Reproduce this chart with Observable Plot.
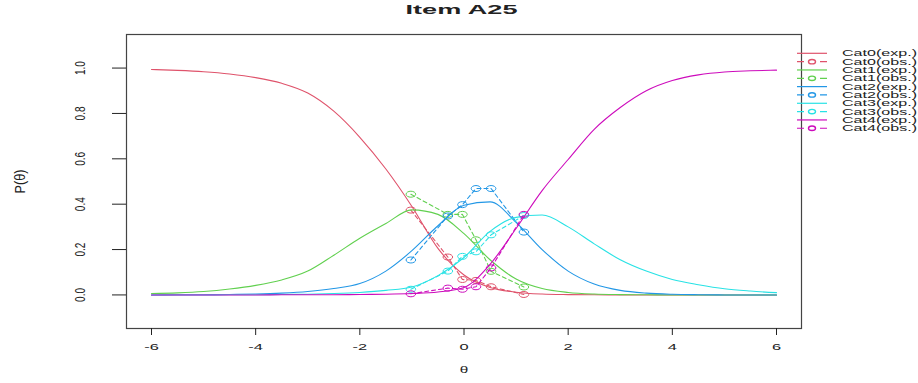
<!DOCTYPE html>
<html><head><meta charset="utf-8">
<script src="https://cdn.jsdelivr.net/npm/d3@7"></script>
<script src="https://cdn.jsdelivr.net/npm/@observablehq/plot@0.6"></script>
<style>body{margin:0;background:#fff}#chart{width:918px;height:383px}</style>
</head><body><div id="chart"></div>
<script>
// ---- data ----
const title = "Item A25";
const yLabel = "P(θ)";
const xLabel = "θ";
const categories = ["Cat0", "Cat1", "Cat2", "Cat3", "Cat4"];
const colors = ["#DF536B", "#61D04F", "#2297E6", "#28E2E5", "#CD0BBC"];
const xTicks = [-6, -4, -2, 0, 2, 4, 6];
const yTicks = [0, 0.2, 0.4, 0.6, 0.8, 1.0];

const theta = [-6, -5.5, -5, -4.5, -4, -3.5, -3, -2.5, -2, -1.5, -1, -0.5, 0, 0.5, 1, 1.5, 2, 2.5, 3, 3.5, 4, 4.5, 5, 5.5, 6];
const cat0Exp = [0.994, 0.990, 0.984, 0.974, 0.958, 0.933, 0.890, 0.81, 0.695, 0.555, 0.39, 0.205, 0.088, 0.033, 0.012, 0.004, 0.0015, 0.0005, 0, 0, 0, 0, 0, 0, 0];
const cat1Exp = [0.006, 0.009, 0.015, 0.026, 0.042, 0.066, 0.105, 0.175, 0.25, 0.315, 0.375, 0.355, 0.27, 0.155, 0.07, 0.028, 0.011, 0.004, 0.0015, 0.0005, 0, 0, 0, 0, 0];
const cat2Exp = [0, 0.0005, 0.001, 0.002, 0.004, 0.008, 0.015, 0.028, 0.05, 0.105, 0.195, 0.305, 0.395, 0.41, 0.32, 0.20, 0.105, 0.048, 0.02, 0.008, 0.003, 0.001, 0, 0, 0];
const cat3Exp = [0, 0, 0, 0.0005, 0.001, 0.002, 0.003, 0.006, 0.011, 0.02, 0.035, 0.085, 0.165, 0.28, 0.342, 0.352, 0.30, 0.225, 0.155, 0.105, 0.068, 0.045, 0.027, 0.017, 0.01];
const cat4Exp = [0, 0, 0, 0, 0, 0.0005, 0.001, 0.001, 0.002, 0.003, 0.006, 0.013, 0.033, 0.135, 0.293, 0.46, 0.597, 0.73, 0.826, 0.90, 0.945, 0.97, 0.983, 0.988, 0.991];

const obsTheta = [-1.02, -0.31, -0.03, 0.23, 0.52, 1.15];
const cat0Obs = [0.374, 0.167, 0.068, 0.064, 0.036, 0.002];
const cat1Obs = [0.444, 0.355, 0.355, 0.243, 0.104, 0.035];
const cat2Obs = [0.154, 0.348, 0.398, 0.469, 0.469, 0.277];
const cat3Obs = [0.025, 0.105, 0.17, 0.19, 0.265, 0.35];
const cat4Obs = [0.005, 0.03, 0.025, 0.036, 0.119, 0.355];

const expSeries = [cat0Exp, cat1Exp, cat2Exp, cat3Exp, cat4Exp];
const obsSeries = [cat0Obs, cat1Obs, cat2Obs, cat3Obs, cat4Obs];

// ---- tables ----
const expRows = categories.map((c, i) => theta.map((t, j) => ({cat: c, theta: t, p: expSeries[i][j]})));
const obsRows = categories.map((c, i) => obsTheta.map((t, j) => ({cat: c, theta: t, p: obsSeries[i][j]})));

// ellipse marker (circles in the reference are horizontally stretched)
const ellipse = {
  draw(ctx, size) {
    const r = Math.sqrt(size / Math.PI), rx = r * 1.6, ry = r, k = 0.5523;
    ctx.moveTo(rx, 0);
    ctx.bezierCurveTo(rx, k * ry, k * rx, ry, 0, ry);
    ctx.bezierCurveTo(-k * rx, ry, -rx, k * ry, -rx, 0);
    ctx.bezierCurveTo(-rx, -k * ry, -k * rx, -ry, 0, -ry);
    ctx.bezierCurveTo(k * rx, -ry, rx, -k * ry, rx, 0);
    ctx.closePath();
  }
};

const marks = [
  Plot.frame({stroke: "#444", strokeWidth: 1.2}),
  Plot.axisX({ticks: xTicks, tickSize: 7, tickPadding: 8.7, fontSize: 8.5, label: null, tickFormat: d => String(d)}),
  Plot.axisY({ticks: yTicks, tickSize: 14, tickFormat: () => "", label: null}),
  Plot.text(yTicks, {y: d => d, text: d => d.toFixed(1), frameAnchor: "left", dx: -45.5, rotate: -90, textAnchor: "middle", lineAnchor: "middle", fontSize: 14}),
  Plot.text([yLabel], {text: d => d, frameAnchor: "left", dx: -106, rotate: -90, textAnchor: "middle", lineAnchor: "middle", fontSize: 15}),
  Plot.text([xLabel], {text: d => d, frameAnchor: "bottom", dy: 42, textAnchor: "middle", lineAnchor: "middle", fontSize: 8.5}),
  Plot.text([title], {text: d => d, frameAnchor: "top", dy: -24.6, dx: -2.5, textAnchor: "middle", lineAnchor: "middle", fontSize: 12, fontWeight: "bold"})
];
categories.forEach((c, i) => {
  marks.push(Plot.line(expRows[i], {x: "theta", y: "p", stroke: colors[i], strokeWidth: 1.1, curve: "monotone-x"}));
  marks.push(Plot.line(obsRows[i], {x: "theta", y: "p", stroke: colors[i], strokeWidth: 1.1, strokeDasharray: "4,3"}));
  marks.push(Plot.dot(obsRows[i], {x: "theta", y: "p", stroke: colors[i], fill: "none", r: 3, symbol: ellipse, strokeWidth: 1}));
});

const plot = Plot.plot({
  width: 918, height: 383,
  marginLeft: 126, marginRight: 117, marginTop: 34, marginBottom: 55,
  x: {domain: [-6.48, 6.48]},
  y: {domain: [-0.148, 1.148]},
  style: {fontFamily: "'Liberation Sans', Arial, sans-serif", background: "#fff", color: "#222"},
  marks
});
document.getElementById("chart").append(plot);

const svg = d3.select(plot);

// ---- stretch plot texts to match the reference's aspect ----
const xTickStrings = new Set(xTicks.map(String));
const yTickStrings = new Set(yTicks.map(d => d.toFixed(1)));
svg.selectAll("text").each(function () {
  const t = this.textContent;
  const L = this.getComputedTextLength();
  if (!(L > 0)) return;
  let target = null;
  if (t === title) target = 112;
  else if (t === yLabel) target = 24;
  else if (t === xLabel) target = L * 1.8;
  else if (yTickStrings.has(t)) target = 14;
  else if (xTickStrings.has(t)) target = L * 1.93;
  if (target != null) {
    this.setAttribute("textLength", target);
    this.setAttribute("lengthAdjust", "spacingAndGlyphs");
  }
});

// ---- legend (outside the plot box, right side) ----
const lg = svg.append("g").attr("class", "legend");
const legendItems = [];
categories.forEach((c, i) => {
  legendItems.push({label: c + "(exp.)", color: colors[i], obs: false});
  legendItems.push({label: c + "(obs.)", color: colors[i], obs: true});
});
legendItems.forEach((d, k) => {
  const y = 53.3 + k * 8.33;
  lg.append("line").attr("x1", 797).attr("x2", 827).attr("y1", y).attr("y2", y)
    .attr("stroke", d.color).attr("stroke-width", 1.2)
    .attr("stroke-dasharray", d.obs ? "7,16" : null);
  if (d.obs) {
    lg.append("path").attr("transform", `translate(812,${y})`)
      .attr("d", d3.symbol(ellipse, Math.PI * 2.2 * 2.2)())
      .attr("fill", "none").attr("stroke", d.color).attr("stroke-width", 1.4);
  }
  const tx = lg.append("text").attr("x", 842).attr("y", y + 3.1)
    .attr("text-anchor", "start")
    .attr("font-size", 9).attr("fill", "#222").text(d.label);
  tx.attr("textLength", 75).attr("lengthAdjust", "spacingAndGlyphs");
});
</script>
</body></html>
